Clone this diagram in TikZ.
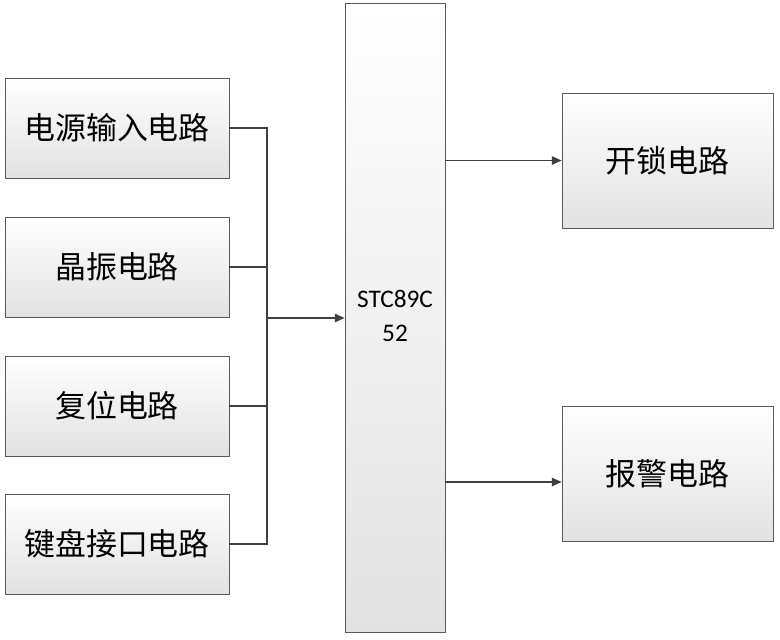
\documentclass[tikz,border=0pt]{standalone}
\usepackage{fontspec}
\setmainfont{Carlito}
\newfontfamily\cjk{Noto Sans CJK SC}
\usetikzlibrary{shadows,arrows.meta}
\definecolor{edgegray}{RGB}{90,90,90}
\definecolor{boxlow}{RGB}{226,226,226}
\tikzset{
  blockbox/.style={draw=edgegray, line width=0.5pt, top color=white, bottom color=boxlow,
    drop shadow={shadow xshift=1pt, shadow yshift=-1pt, fill=black!30},
    font=\cjk\fontsize{22}{26}\selectfont, inner sep=0pt},
  wire/.style={draw=black!75, line width=1pt},
  flow/.style={wire, -{Triangle[length=7pt,width=6pt]}}
}
\begin{document}
\begin{tikzpicture}[x=0.025cm, y=-0.025cm]
    \useasboundingbox (0,0) rectangle (780,639);
    % left blocks
    \node[blockbox, minimum width=224*0.025cm, minimum height=100*0.025cm] (power) at (117,128) {电源输入电路};
    \node[blockbox, minimum width=224*0.025cm, minimum height=100*0.025cm] (osc) at (117,267) {晶振电路};
    \node[blockbox, minimum width=224*0.025cm, minimum height=100*0.025cm] (reset) at (117,406) {复位电路};
    \node[blockbox, minimum width=224*0.025cm, minimum height=100*0.025cm] (keys) at (117,544) {键盘接口电路};
    % controller
    \node[blockbox, minimum width=100*0.025cm, minimum height=629*0.025cm] (mcu) at (395,317.5) {};
    \node[font=\fontsize{18}{24}\selectfont, align=center] (mcutext) at (395,316) {STC89C\\52};
    % right blocks
    \node[blockbox, minimum width=211*0.025cm, minimum height=135*0.025cm] (unlock) at (667.5,160.5) {开锁电路};
    \node[blockbox, minimum width=211*0.025cm, minimum height=135*0.025cm] (alarm) at (667.5,473.5) {报警电路};
    % bus
    \coordinate (bustop) at (267,128);
    \coordinate (busbot) at (267,544);
    \coordinate (busmid) at (267,318);
    \draw[wire] (power.east) -- (bustop) -- (busbot) -- (keys.east);
    \draw[wire] (osc.east) -- (osc.east -| bustop);
    \draw[wire] (reset.east) -- (reset.east -| bustop);
    \draw[flow] (busmid) -- (busmid -| mcu.west);
    \draw[flow] (unlock.west -| mcu.east) -- (unlock.west);
    \draw[flow] (mcu.east |- 0,482) -- (alarm.west |- 0,482);
\end{tikzpicture}
\end{document}
